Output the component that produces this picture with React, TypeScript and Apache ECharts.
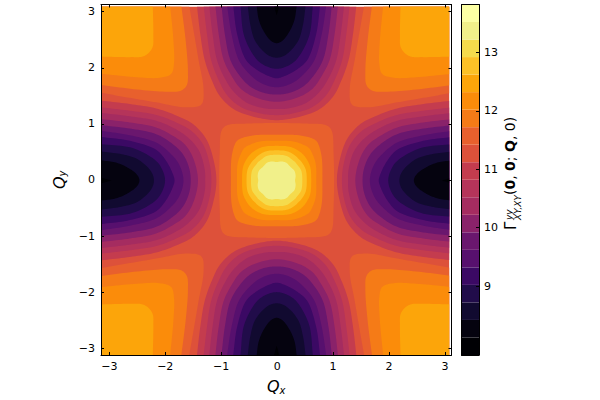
import React, { useEffect, useRef } from "react";
import * as echarts from "echarts";

type P = [number, number];

// colour bar bands, lowest first
const bandColors = [
  "#000004", "#05030f", "#110a30", "#210c4a", "#3b0964", "#57106e", "#6a176e",
  "#8a226a", "#a52c60", "#b5345a", "#c43c4e", "#dd513a", "#e8602d", "#f57b17",
  "#fb8c0a", "#fca50a", "#fcc127", "#f5db4c", "#f1f08a", "#fcffa4",
];
const barTicks = [9, 10, 11, 12, 13];
const barMin = 7.82;
const barStep = 0.3;
const axisTicks = [-3, -2, -1, 0, 1, 2, 3];

// low lobes: contour from the axis out to the plot edge
const lobe10: P[] = [[0, 1.08], [0.32, 1.12], [0.74, 1.26], [1.01, 1.5], [1.16, 1.79], [1.29, 2.16], [1.37, 2.63], [1.43, 3.14]];
const lobe9: P[] = [[0, 1.17], [0.29, 1.2], [0.65, 1.32], [0.89, 1.53], [1.04, 1.8], [1.175, 2.16], [1.25, 2.63], [1.31, 3.14]];
const lobe8: P[] = [[0, 1.28], [0.2, 1.29], [0.53, 1.39], [0.77, 1.59], [0.93, 1.83], [1.07, 2.16], [1.15, 2.63], [1.21, 3.14]];
const lobe7: P[] = [[0, 1.41], [0.41, 1.5], [0.65, 1.65], [0.8, 1.86], [0.95, 2.16], [1.04, 2.63], [1.1, 3.14]];
const lobe6: P[] = [[0, 1.54], [0.23, 1.57], [0.47, 1.68], [0.65, 1.86], [0.83, 2.16], [0.93, 2.63], [0.99, 3.14]];
const lobe5: P[] = [[0, 1.67], [0.29, 1.75], [0.5, 1.92], [0.68, 2.16], [0.81, 2.63], [0.89, 3.14]];
const lobe4: P[] = [[0, 1.83], [0.14, 1.87], [0.35, 1.98], [0.55, 2.16], [0.71, 2.63], [0.78, 3.14]];
const lobe3: P[] = [[0, 2.0], [0.17, 2.04], [0.35, 2.16], [0.58, 2.58], [0.65, 3.14]];
const lobe2: P[] = [[0, 2.2], [0.16, 2.25], [0.38, 2.49], [0.47, 2.78], [0.52, 3.14]];
const lobe1: P[] = [[0, 2.46], [0.1, 2.5], [0.23, 2.67], [0.32, 2.88], [0.36, 3.14]];
const lobe0: P[] = [[0, 2.96], [0.05, 3.14]];

// high corners: contour from the top edge to the side edge
const corner12: P[] = [[1.57, 3.14], [1.48, 2.63], [1.4, 2.16], [1.31, 1.63], [1.35, 1.36], [1.63, 1.31], [2.16, 1.4], [2.63, 1.48], [3.14, 1.57]];
const corner13: P[] = [[1.71, 3.14], [1.63, 2.5], [1.59, 1.95], [1.61, 1.71], [1.71, 1.61], [1.95, 1.59], [2.5, 1.63], [3.14, 1.71]];
const corner14: P[] = [[1.91, 3.14], [1.85, 2.5], [1.84, 2.1], [1.89, 1.91], [2.1, 1.84], [2.5, 1.85], [3.14, 1.91]];
const corner15: P[] = [[2.22, 3.14], [2.21, 2.6], [2.22, 2.4], [2.29, 2.29], [2.4, 2.22], [2.6, 2.21], [3.14, 2.22]];

// central peak: first quadrant arc of each contour
const peak12: P[] = [[0, 1.03], [0.5, 1.02], [0.85, 1.0], [0.95, 0.95], [1.0, 0.85], [1.02, 0.5], [1.03, 0]];
const peak13: P[] = [[0, 0.82], [0.4, 0.81], [0.62, 0.76], [0.71, 0.71], [0.76, 0.62], [0.81, 0.4], [0.82, 0]];
const peak14: P[] = [[0, 0.71], [0.3, 0.7], [0.5, 0.63], [0.58, 0.58], [0.63, 0.5], [0.7, 0.3], [0.71, 0]];
const peak15: P[] = [[0, 0.62], [0.25, 0.6], [0.41, 0.52], [0.47, 0.47], [0.52, 0.41], [0.6, 0.25], [0.62, 0]];
const peak16: P[] = [[0, 0.54], [0.2, 0.52], [0.34, 0.44], [0.39, 0.39], [0.44, 0.34], [0.52, 0.2], [0.54, 0]];
const peak17: P[] = [[0, 0.46], [0.18, 0.44], [0.28, 0.37], [0.33, 0.33], [0.37, 0.28], [0.44, 0.18], [0.46, 0]];
const peak18: P[] = [[0, 0.33], [0.08, 0.34], [0.17, 0.32], [0.24, 0.25], [0.32, 0.17], [0.34, 0.08], [0.33, 0]];

const lobes: [number, P[]][] = [
  [10, lobe10], [9, lobe9], [8, lobe8], [7, lobe7], [6, lobe6], [5, lobe5],
  [4, lobe4], [3, lobe3], [2, lobe2], [1, lobe1], [0, lobe0],
];
const corners: [number, P[]][] = [[12, corner12], [13, corner13], [14, corner14], [15, corner15]];
const peaks: [number, P[]][] = [
  [12, peak12], [13, peak13], [14, peak14], [15, peak15], [16, peak16], [17, peak17], [18, peak18],
];

// draws a contour's read-off control points as a smooth curve
function curve(ctrl: P[], closed: boolean): P[] {
  const n = ctrl.length;
  const get = (i: number): P => {
    if (closed) return ctrl[(i + n) % n];
    if (i < 0) return [2 * ctrl[0][0] - ctrl[1][0], 2 * ctrl[0][1] - ctrl[1][1]];
    if (i >= n) return [2 * ctrl[n - 1][0] - ctrl[n - 2][0], 2 * ctrl[n - 1][1] - ctrl[n - 2][1]];
    return ctrl[i];
  };
  const out: P[] = [];
  const segs = closed ? n : n - 1;
  for (let i = 0; i < segs; i++) {
    const [p0, p1, p2, p3] = [get(i - 1), get(i), get(i + 1), get(i + 2)];
    const d = (a: P, b: P) => Math.max(1e-4, Math.sqrt(Math.hypot(a[0] - b[0], a[1] - b[1])));
    const t1 = d(p0, p1), t2 = t1 + d(p1, p2), t3 = t2 + d(p2, p3);
    const lerp = (a: P, b: P, ta: number, tb: number, t: number): P => {
      const w = (t - ta) / (tb - ta);
      return [a[0] + (b[0] - a[0]) * w, a[1] + (b[1] - a[1]) * w];
    };
    for (let k = 0; k < 10; k++) {
      const t = t1 + ((t2 - t1) * k) / 10;
      const a1 = lerp(p0, p1, 0, t1, t);
      const a2 = lerp(p1, p2, t1, t2, t);
      const a3 = lerp(p2, p3, t2, t3, t);
      const b1 = lerp(a1, a2, 0, t2, t);
      const b2 = lerp(a2, a3, t1, t3, t);
      out.push(lerp(b1, b2, t1, t2, t));
    }
  }
  if (!closed) out.push(ctrl[n - 1]);
  return out;
}

const OUT = 3.7;
type Shape = { band: number; pts: P[] };
const shapes: Shape[] = [{ band: 11, pts: [[-OUT, -OUT], [OUT, -OUT], [OUT, OUT], [-OUT, OUT]] }];

corners.forEach(([band, c]) => {
  const last = c[c.length - 1];
  const full: P[] = [[c[0][0], OUT], ...curve(c, false), [OUT, last[1]], [OUT, OUT]];
  [[1, 1], [-1, 1], [1, -1], [-1, -1]].forEach(([a, b]) =>
    shapes.push({ band, pts: full.map(([u, v]) => [a * u, b * v] as P) }),
  );
});
peaks.forEach(([band, arc]) => {
  const q2 = [...arc].reverse().slice(1).map(([u, v]) => [u, -v] as P);
  const q3 = arc.slice(1).map(([u, v]) => [-u, -v] as P);
  const q4 = [...arc].reverse().slice(1, -1).map(([u, v]) => [-u, v] as P);
  shapes.push({ band, pts: curve([...arc, ...q2, ...q3, ...q4], true) });
});
lobes.forEach(([band, half]) => {
  const left = [...half].reverse().slice(0, -1).map(([u, v]) => [-u, v] as P);
  const ctrl = [...left, ...half];
  const path = band === 0 ? ctrl : curve(ctrl, false);
  const e = half[half.length - 1][0];
  const whole: P[] = [[-e, OUT], ...path, [e, OUT]];
  shapes.push({ band, pts: whole });
  shapes.push({ band, pts: whole.map(([u, v]) => [u, -v] as P) });
  shapes.push({ band, pts: whole.map(([u, v]) => [v, u] as P) });
  shapes.push({ band, pts: whole.map(([u, v]) => [-v, u] as P) });
});

const xMin = -3.148, xMax = 3.116, yMin = -3.12, yMax = 3.128;
// the filled image is trimmed a little short of the frame on the right and top
const imgRight = 3.074;
const imgTop = 3.089;
const imgX = (u: number) => -0.009 + 0.997 * u;
const imgY = (v: number) => -0.009 + 0.995 * v;

const labelStyle = { color: "#000", fontFamily: "DejaVu Sans", fontSize: 11 };
const fmt = (v: number) => String(v).replace("-", "\u2212");
const lineBlack = { show: true, onZero: false, lineStyle: { color: "#000", width: 1 } };
const mathRich = {
  q: { fontFamily: "DejaVu Sans", fontStyle: "italic", fontSize: 16, color: "#000" },
  s: { fontFamily: "DejaVu Sans", fontStyle: "italic", fontSize: 10, color: "#000", verticalAlign: "bottom", padding: [7, 0, 0, 0] },
};

const frameAxis = (extra: any, min: number, max: number, labelled: boolean) => ({
  type: "value",
  gridIndex: 0,
  min,
  max,
  z: 10,
  axisLine: lineBlack,
  splitLine: { show: false },
  axisTick: { show: true, inside: true, length: 3, customValues: axisTicks, lineStyle: { color: "#000", width: 1 } },
  axisLabel: labelled
    ? { show: true, ...labelStyle, margin: 6, customValues: axisTicks, formatter: fmt }
    : { show: false },
  ...extra,
});

export default function App() {
  const ref = useRef<HTMLDivElement>(null);
  useEffect(() => {
    const chart = echarts.init(ref.current!, undefined, { renderer: "svg" });
    chart.setOption({
      animation: false,
      backgroundColor: "#fff",
      grid: [
        { left: 101, top: 4.5, width: 350.5, height: 350.5, containLabel: false, outerBoundsMode: "none" },
        { left: 461.5, top: 4.5, width: 17.5, height: 350.5, containLabel: false, outerBoundsMode: "none" },
      ],
      xAxis: [
        frameAxis({ position: "bottom", name: "{q|Q}{s|x}", nameLocation: "middle", nameGap: 23, nameTextStyle: { rich: mathRich } }, xMin, xMax, true),
        frameAxis({ position: "top" }, xMin, xMax, false),
        {
          type: "value", gridIndex: 1, min: 0, max: 1, z: 10, position: "bottom",
          axisLine: lineBlack, axisTick: { show: false }, axisLabel: { show: false }, splitLine: { show: false },
        },
        {
          type: "value", gridIndex: 1, min: 0, max: 1, z: 10, position: "top",
          axisLine: lineBlack, axisTick: { show: false }, axisLabel: { show: false }, splitLine: { show: false },
        },
      ],
      yAxis: [
        frameAxis({ position: "left", name: "{q|Q}{s|y}", nameLocation: "middle", nameGap: 32, nameRotate: 90, nameTextStyle: { rich: mathRich } }, yMin, yMax, true),
        frameAxis({ position: "right" }, yMin, yMax, false),
        {
          type: "value", gridIndex: 1, min: barMin, max: barMin + barStep * bandColors.length, z: 10, position: "right",
          axisLine: lineBlack, splitLine: { show: false },
          axisTick: { show: true, inside: true, length: 3, customValues: barTicks, lineStyle: { color: "#000", width: 1 } },
          axisLabel: { show: true, ...labelStyle, margin: 5, customValues: barTicks, formatter: (v: number) => String(v) },
        },
        {
          type: "value", gridIndex: 1, min: barMin, max: barMin + barStep * bandColors.length, z: 10, position: "left",
          axisLine: lineBlack, axisTick: { show: false }, axisLabel: { show: false }, splitLine: { show: false },
        },
      ],
      series: [
        {
          type: "custom",
          coordinateSystem: "cartesian2d",
          xAxisIndex: 0,
          yAxisIndex: 0,
          silent: true,
          z: 2,
          data: shapes.map((_, i) => [0, 0, i]),
          renderItem: (params: any, api: any) => {
            const s = shapes[params.dataIndex];
            const tl = api.coord([xMin, imgTop]);
            const br = api.coord([imgRight, yMin]);
            return {
              type: "polygon",
              shape: { points: s.pts.map(([u, v]) => api.coord([imgX(u), imgY(v)])) },
              style: { fill: bandColors[s.band] },
              clipPath: { type: "rect", shape: { x: tl[0], y: tl[1], width: br[0] - tl[0], height: br[1] - tl[1] } },
            };
          },
        },
        {
          type: "custom",
          coordinateSystem: "cartesian2d",
          xAxisIndex: 2,
          yAxisIndex: 2,
          silent: true,
          z: 2,
          data: bandColors.map((_, i) => [0, barMin + barStep * i]),
          renderItem: (params: any, api: any) => {
            const i = params.dataIndex;
            const a = api.coord([0, barMin + barStep * (i + 1)]);
            const b = api.coord([1, barMin + barStep * i]);
            return {
              type: "rect",
              shape: { x: a[0], y: a[1], width: b[0] - a[0], height: b[1] - a[1] },
              style: { fill: bandColors[i] },
            };
          },
        },
      ],
      graphic: [
        {
          type: "group",
          x: 516,
          y: 230,
          rotation: Math.PI / 2,
          children: [
            { type: "text", x: 0, y: -13, style: { text: "\u0393", font: "15px 'DejaVu Sans'", fill: "#000" } },
            { type: "text", x: 10, y: -12, style: { text: "yy", font: "italic 9px 'DejaVu Sans'", fill: "#000" } },
            { type: "text", x: 10, y: -3, style: { text: "XY,XY", font: "italic 9px 'DejaVu Sans'", fill: "#000" } },
            {
              type: "text",
              x: 35,
              y: -13,
              style: {
                text: "{n|(}{b|0}{n|, }{b|0}{n|; }{b|Q}{n|, 0)}",
                rich: {
                  n: { fontFamily: "DejaVu Sans", fontSize: 14, fill: "#000" },
                  b: { fontFamily: "DejaVu Sans", fontSize: 14, fontWeight: "bold", fill: "#000" },
                },
              },
            },
          ],
        },
      ],
    });
    return () => chart.dispose();
  }, []);
  return <div ref={ref} style={{ width: 600, height: 400, position: "absolute", left: 0, top: 0 }} />;
}
